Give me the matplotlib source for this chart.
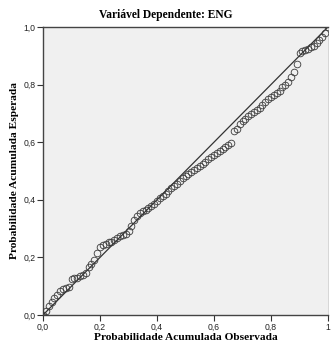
import matplotlib
matplotlib.use('Agg')
import matplotlib.pyplot as plt
from matplotlib.ticker import FixedLocator, FixedFormatter

# observed vs expected cumulative probability (P-P plot of residuals)
observed = [0.00, 0.01, 0.02, 0.03, 0.04, 0.05, 0.06, 0.07, 0.08, 0.09,
            0.10, 0.11, 0.12, 0.13, 0.14, 0.15, 0.16, 0.17, 0.18, 0.19,
            0.20, 0.21, 0.22, 0.23, 0.24, 0.25, 0.26, 0.27, 0.28, 0.29,
            0.30, 0.31, 0.32, 0.33, 0.34, 0.35, 0.36, 0.37, 0.38, 0.39,
            0.40, 0.41, 0.42, 0.43, 0.44, 0.45, 0.46, 0.47, 0.48, 0.49,
            0.50, 0.51, 0.52, 0.53, 0.54, 0.55, 0.56, 0.57, 0.58, 0.59,
            0.60, 0.61, 0.62, 0.63, 0.64, 0.65, 0.66, 0.67, 0.68, 0.69,
            0.70, 0.71, 0.72, 0.73, 0.74, 0.75, 0.76, 0.77, 0.78, 0.79,
            0.80, 0.81, 0.82, 0.83, 0.84, 0.85, 0.86, 0.87, 0.88, 0.89,
            0.90, 0.91, 0.92, 0.93, 0.94, 0.95, 0.96, 0.97, 0.98, 0.99, 1.00]
expected = [0.000, 0.015, 0.030, 0.045, 0.058, 0.070, 0.082, 0.090, 0.094, 0.097,
            0.125, 0.128, 0.130, 0.135, 0.140, 0.145, 0.165, 0.178, 0.190, 0.215,
            0.235, 0.243, 0.248, 0.252, 0.255, 0.260, 0.268, 0.275, 0.278, 0.280,
            0.290, 0.310, 0.330, 0.345, 0.355, 0.360, 0.365, 0.370, 0.378, 0.385,
            0.395, 0.405, 0.413, 0.420, 0.430, 0.440, 0.447, 0.455, 0.465, 0.475,
            0.483, 0.490, 0.495, 0.503, 0.510, 0.518, 0.525, 0.532, 0.540, 0.547,
            0.555, 0.562, 0.568, 0.575, 0.582, 0.590, 0.597, 0.638, 0.645, 0.662,
            0.672, 0.680, 0.690, 0.697, 0.705, 0.710, 0.720, 0.730, 0.740, 0.750,
            0.758, 0.765, 0.772, 0.778, 0.790, 0.800, 0.810, 0.825, 0.845, 0.870,
            0.910, 0.915, 0.920, 0.925, 0.930, 0.935, 0.945, 0.955, 0.965, 0.980, 1.000]

tick_vals = [0.0, 0.2, 0.4, 0.6, 0.8, 1.0]
x_ticklabels = ['0,0', '0,2', '0,4', '0,6', '0,8', '1']
y_ticklabels = ['0,0', '0,2', '0,4', '0,6', '0,8', '1,0']

fig = plt.figure(figsize=(3.31, 3.45), dpi=100)
ax = fig.add_axes([0.130, 0.087, 0.861, 0.835])
ax.set_facecolor('#f0f0f0')

ax.plot([0, 1], [0, 1], color='#333333', lw=0.9, zorder=2)
ax.plot(observed, expected, linestyle='none', marker='o', markersize=4.8,
        markerfacecolor='none', markeredgecolor='#3a3a3a', markeredgewidth=0.6,
        zorder=3)

ax.set_xlim(0, 1)
ax.set_ylim(0, 1)
ax.xaxis.set_major_locator(FixedLocator(tick_vals))
ax.xaxis.set_major_formatter(FixedFormatter(x_ticklabels))
ax.yaxis.set_major_locator(FixedLocator(tick_vals))
ax.yaxis.set_major_formatter(FixedFormatter(y_ticklabels))
ax.tick_params(direction='out', length=4, width=0.8, color='#333333',
               labelsize=6.2, pad=1.5, labelcolor='#222222')
for lab in ax.get_xticklabels() + ax.get_yticklabels():
    lab.set_fontfamily('Liberation Sans')

for side in ['left', 'bottom', 'top']:
    ax.spines[side].set_color('#444444')
    ax.spines[side].set_linewidth(1.0)
ax.spines['right'].set_color('#d0d0d0')
ax.spines['right'].set_linewidth(0.6)

fig.text(0.5, 0.957, 'Variável Dependente: ENG', ha='center', va='center',
         fontfamily='Liberation Serif', fontweight='bold', fontsize=8.3)
ax.set_xlabel('Probabilidade Acumulada Observada', fontfamily='Liberation Serif',
              fontweight='bold', fontsize=8.2, labelpad=1.0)
ax.set_ylabel('Probabilidade Acumulada Esperada', fontfamily='Liberation Serif',
              fontweight='bold', fontsize=8.2, labelpad=3)

fig.savefig('out.png', dpi=100)
